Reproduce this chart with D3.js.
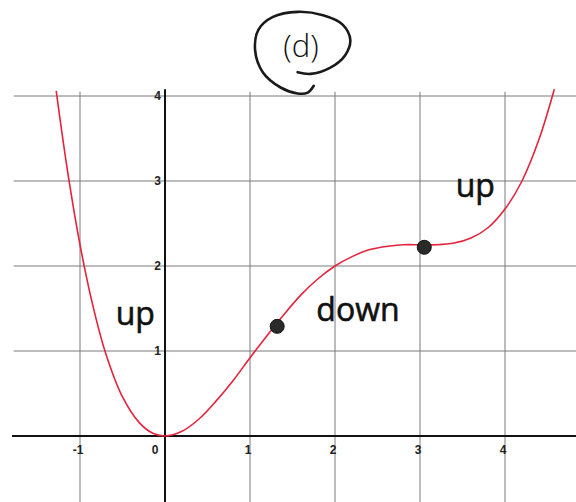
<!DOCTYPE html>
<html>
<head>
<meta charset="utf-8">
<script src="https://cdn.jsdelivr.net/npm/d3@7/dist/d3.min.js"></script>
<style>
  html, body { margin: 0; padding: 0; background: #fff; }
  svg { display: block; }
</style>
</head>
<body>
<script>
// Sampled points of the red curve
const curveX = [-1.28, -1.15, -1, -0.85, -0.7, -0.5, -0.3, -0.15, 0, 0.2, 0.4, 0.6, 0.8, 1, 1.2, 1.4, 1.6, 1.8, 2, 2.2, 2.4, 2.6, 2.8, 3, 3.2, 3.4, 3.6, 3.8, 4, 4.2, 4.4, 4.58];
const curveY = [4.06, 3.14, 2.25, 1.54, 0.98, 0.46, 0.154, 0.036, 0, 0.055, 0.2, 0.41, 0.65, 0.92, 1.18, 1.43, 1.66, 1.85, 2.0, 2.11, 2.19, 2.23, 2.25, 2.25, 2.25, 2.27, 2.33, 2.45, 2.67, 3.0, 3.49, 4.08];

// Marked points on the curve
const dotX = [1.32, 3.05];
const dotY = [1.29, 2.22];

// Tick values and labels
const xTicks = [-1, 0, 1, 2, 3, 4];
const xTickLabels = ["-1", "0", "1", "2", "3", "4"];
const yTicks = [1, 2, 3, 4];
const yTickLabels = ["1", "2", "3", "4"];

// Written notes (text, x, baseline y in data units)
const noteText = ["up", "down", "up"];
const noteX = [-0.35, 2.27, 3.65];
const noteY = [1.31, 1.35, 2.81];

// Loop drawn around the "(d)" title, in data units
const loopX = [1.56, 1.71, 1.94, 2.12, 2.18, 2.09, 1.86, 1.56, 1.27, 1.10, 1.06, 1.15, 1.36, 1.56, 1.68, 1.75];
const loopY = [4.28, 4.26, 4.33, 4.48, 4.66, 4.84, 4.95, 4.99, 4.93, 4.78, 4.54, 4.28, 4.10, 4.03, 4.04, 4.12];

const W = 576, H = 502;
const unit = 85;
const x0 = 165, y0 = 436;

const x = d3.scaleLinear().domain([-1.8, 4.85]).range([x0 - 1.8 * unit, x0 + 4.85 * unit]);
const y = d3.scaleLinear().domain([-0.8, 5.2]).range([y0 + 0.8 * unit, y0 - 5.2 * unit]);

const svg = d3.select("body").append("svg")
  .attr("width", W).attr("height", H);

const gridTop = y(4.05);

// Horizontal grid lines
svg.append("g").selectAll("line").data(yTicks).join("line")
  .attr("x1", x(-1.78)).attr("x2", W)
  .attr("y1", d => y(d)).attr("y2", d => y(d))
  .attr("stroke", "#7a7a7a").attr("stroke-width", 1);

// Vertical grid lines
svg.append("g").selectAll("line").data(xTicks.filter(d => d !== 0)).join("line")
  .attr("x1", d => x(d)).attr("x2", d => x(d))
  .attr("y1", gridTop).attr("y2", H)
  .attr("stroke", "#7a7a7a").attr("stroke-width", 1);

// Axes
svg.append("line")
  .attr("x1", x(-1.8)).attr("x2", W)
  .attr("y1", y(0)).attr("y2", y(0))
  .attr("stroke", "#111").attr("stroke-width", 2);
svg.append("line")
  .attr("x1", x(0)).attr("x2", x(0))
  .attr("y1", y(4.08)).attr("y2", H)
  .attr("stroke", "#111").attr("stroke-width", 2);

// Tick labels
svg.append("g").selectAll("text").data(yTicks).join("text")
  .attr("x", x(0) - 4).attr("y", d => y(d))
  .attr("text-anchor", "end").attr("dominant-baseline", "central")
  .attr("font-family", "Liberation Sans, Arial, sans-serif")
  .attr("font-size", 12).attr("font-weight", "bold").attr("fill", "#222")
  .text((d, i) => yTickLabels[i]);

svg.append("g").selectAll("text").data(xTicks).join("text")
  .attr("x", d => d === 0 ? x(d) - 10 : x(d) - 2).attr("y", y(0) + 14)
  .attr("text-anchor", "middle").attr("dominant-baseline", "central")
  .attr("font-family", "Liberation Sans, Arial, sans-serif")
  .attr("font-size", 12).attr("font-weight", "bold").attr("fill", "#222")
  .text((d, i) => xTickLabels[i]);

// Red curve
const pts = curveX.map((v, i) => [v, curveY[i]]);
svg.append("path")
  .datum(pts)
  .attr("fill", "none")
  .attr("stroke", "#e4233d")
  .attr("stroke-width", 1.6)
  .attr("d", d3.line().x(d => x(d[0])).y(d => y(d[1])).curve(d3.curveCatmullRom.alpha(0.5)));

// Marked points
svg.append("g").selectAll("circle").data(dotX).join("circle")
  .attr("cx", d => x(d)).attr("cy", (d, i) => y(dotY[i]))
  .attr("r", 7)
  .attr("fill", "#2a2a2a").attr("stroke", "#111").attr("stroke-width", 1);

// Written notes
svg.append("g").selectAll("text").data(noteText).join("text")
  .attr("x", (d, i) => x(noteX[i])).attr("y", (d, i) => y(noteY[i]))
  .attr("text-anchor", "middle")
  .attr("font-family", "Open Sans, sans-serif")
  .attr("font-size", 32).attr("font-weight", 400).attr("fill", "#111")
  .attr("stroke", "#111").attr("stroke-width", 0.6)
  .text(d => d);

// Title and its loop
svg.append("text")
  .attr("x", x(1.6)).attr("y", y(4.46))
  .attr("text-anchor", "middle")
  .attr("font-family", "Open Sans, sans-serif")
  .attr("font-size", 31).attr("font-weight", 300).attr("fill", "#111")
  .text("(d)");

const loopPts = loopX.map((v, i) => [v, loopY[i]]);
svg.append("path")
  .datum(loopPts)
  .attr("fill", "none")
  .attr("stroke", "#1a1a1a")
  .attr("stroke-width", 2.6)
  .attr("stroke-linecap", "round")
  .attr("d", d3.line().x(d => x(d[0])).y(d => y(d[1])).curve(d3.curveCatmullRom.alpha(0.5)));
</script>
</body>
</html>
